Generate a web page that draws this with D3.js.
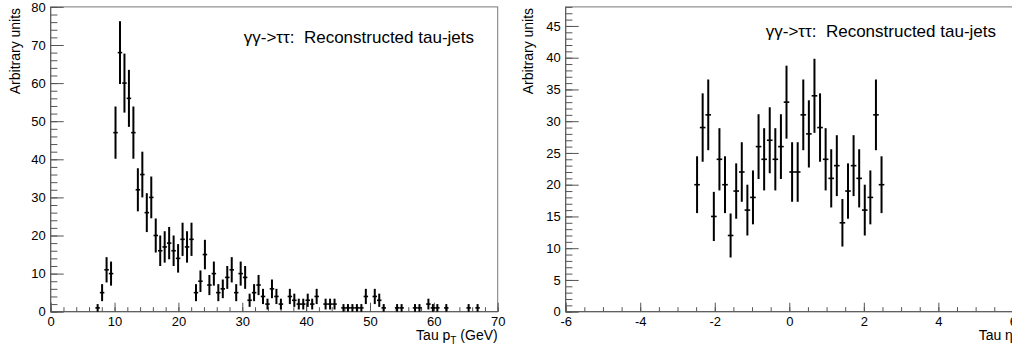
<!DOCTYPE html>
<html>
<head>
<meta charset="utf-8">
<script src="https://cdnjs.cloudflare.com/ajax/libs/d3/7.8.5/d3.min.js"></script>
<style>
  body { margin: 0; background: #fff; overflow: hidden; }
  svg { display: block; font-family: "Liberation Sans", Arial, Helvetica, sans-serif; }
  .label { white-space: pre; }
</style>
</head>
<body>
<svg id="chart" width="1012" height="349"></svg>
<script>
// tau pT histogram: 0.7 GeV bins, empty bins are not drawn
const ptBinWidth = 0.7;
const ptCenters = [7.35, 8.05, 8.75, 9.45, 10.15, 10.85, 11.55, 12.25, 12.95, 13.65,
  14.35, 15.05, 15.75, 16.45, 17.15, 17.85, 18.55, 19.25, 19.95, 20.65,
  21.35, 22.05, 22.75, 23.45, 24.15, 24.85, 25.55, 26.25, 26.95, 27.65,
  28.35, 29.05, 29.75, 30.45, 31.15, 31.85, 32.55, 33.25, 33.95, 34.65,
  35.35, 36.05, 37.45, 38.15, 38.85, 39.55, 40.25, 40.95, 41.65, 43.05,
  43.75, 44.45, 45.85, 46.55, 47.25, 47.95, 48.65, 49.35, 50.75, 51.45,
  52.15, 54.25, 54.95, 57.05, 57.75, 59.15, 59.85, 60.55, 61.95, 65.45, 66.85];
const ptCounts = [1, 5, 11, 10, 47, 68, 60, 56, 47, 32,
  36, 26, 30, 20, 16, 17, 18, 16, 14, 19,
  17, 19, 5, 8, 15, 7, 10, 5, 6, 9,
  11, 5, 10, 9, 3, 5, 7, 4, 2, 6,
  4, 2, 4, 3, 2, 2, 3, 2, 4, 2,
  2, 2, 1, 1, 1, 1, 1, 4, 4, 3,
  1, 1, 1, 1, 1, 2, 1, 1, 1, 1, 1];

// tau eta histogram: 0.15 bins
const etaBinWidth = 0.15;
const etaCenters = [-2.475, -2.325, -2.175, -2.025, -1.875, -1.725, -1.575, -1.425, -1.275, -1.125,
  -0.975, -0.825, -0.675, -0.525, -0.375, -0.225, -0.075, 0.075, 0.225, 0.375,
  0.525, 0.675, 0.825, 0.975, 1.125, 1.275, 1.425, 1.575, 1.725, 1.875,
  2.025, 2.175, 2.325, 2.475];
const etaCounts = [20, 29, 31, 15, 24, 20, 12, 19, 22, 16,
  18, 26, 24, 27, 24, 26, 33, 22, 22, 31,
  28, 34, 29, 24, 21, 23, 14, 19, 23, 21,
  16, 18, 31, 20];

const ptTicks = [0, 10, 20, 30, 40, 50, 60, 70];
const ptCountTicks = [0, 10, 20, 30, 40, 50, 60, 70, 80];
const etaTicks = [-6, -4, -2, 0, 2, 4, 6];
const etaCountTicks = [0, 5, 10, 15, 20, 25, 30, 35, 40, 45];

const yTitle = "Arbitrary units";
const label = "γγ->ττ:  Reconstructed tau-jets";

const svg = d3.select("#chart");
const axisColor = "#555";
const fmt = d => String(d);   // plain hyphen for negatives, like the original

function drawPanel(p) {
  const x = d3.scaleLinear().domain(p.xDomain).range([p.left, p.right]);
  const y = d3.scaleLinear().domain(p.yDomain).range([p.bottom, p.top]);
  const g = svg.append("g");

  // frame
  g.append("rect")
    .attr("x", p.left).attr("y", p.top)
    .attr("width", p.right - p.left).attr("height", p.bottom - p.top)
    .attr("fill", "none").attr("stroke", "#777").attr("stroke-width", 1);

  const clean = sel => {
    sel.select(".domain").remove();
    sel.selectAll(".tick line").attr("stroke", axisColor);
    sel.selectAll("text").attr("fill", "#000").attr("font-size", 13);
  };

  // x axis, ticks point into the frame
  g.append("g").attr("transform", "translate(0," + p.bottom + ")")
    .call(d3.axisBottom(x).tickValues(p.xMinor).tickSize(-4.5).tickFormat(""))
    .call(clean);
  g.append("g").attr("transform", "translate(0," + p.bottom + ")")
    .call(d3.axisBottom(x).tickValues(p.xTicks).tickSize(-9).tickPadding(5).tickFormat(fmt))
    .call(clean);

  // y axis
  g.append("g").attr("transform", "translate(" + p.left + ",0)")
    .call(d3.axisLeft(y).tickValues(p.yMinor).tickSize(-6.7).tickFormat(""))
    .call(clean);
  g.append("g").attr("transform", "translate(" + p.left + ",0)")
    .call(d3.axisLeft(y).tickValues(p.yTicks).tickSize(-13).tickPadding(5).tickFormat(fmt))
    .call(clean);

  g.append("line")
    .attr("x1", p.left).attr("x2", p.right).attr("y1", p.bottom).attr("y2", p.bottom)
    .attr("stroke", axisColor);
  g.append("line")
    .attr("x1", p.left).attr("x2", p.left).attr("y1", p.top).attr("y2", p.bottom)
    .attr("stroke", axisColor);

  // histogram points with sqrt(N) errors
  const pts = p.centers.map((c, i) => ({ c: c, n: p.counts[i] }));
  const marks = g.append("g");
  marks.selectAll(".ebar").data(pts).enter().append("line")
    .attr("x1", d => x(d.c)).attr("x2", d => x(d.c))
    .attr("y1", d => y(d.n - Math.sqrt(d.n))).attr("y2", d => y(d.n + Math.sqrt(d.n)))
    .attr("stroke", "#000").attr("stroke-width", 2);
  marks.selectAll(".hbar").data(pts).enter().append("line")
    .attr("x1", d => x(d.c - p.binWidth / 2)).attr("x2", d => x(d.c + p.binWidth / 2))
    .attr("y1", d => y(d.n)).attr("y2", d => y(d.n))
    .attr("stroke", "#000").attr("stroke-width", 1.6);

  // titles
  g.append("text")
    .attr("transform", "translate(" + p.yTitleX + "," + (p.top + 1) + ") rotate(-90)")
    .attr("text-anchor", "end").attr("font-size", 14).text(yTitle);

  const xt = g.append("text")
    .attr("x", p.right).attr("y", 340)
    .attr("text-anchor", "end").attr("font-size", 14);
  p.xTitle(xt);

  g.append("text").attr("class", "label")
    .attr("x", p.labelX).attr("y", p.labelY)
    .attr("text-anchor", "end").attr("font-size", 17).text(label);
}

drawPanel({
  left: 50.7, right: 497.7, top: 6.9, bottom: 311.7,
  xDomain: [0, 70], yDomain: [0, 80],
  xTicks: ptTicks, xMinor: d3.range(0, 71, 2),
  yTicks: ptCountTicks, yMinor: d3.range(0, 81, 2),
  centers: ptCenters, counts: ptCounts, binWidth: ptBinWidth,
  yTitleX: 20,
  labelX: 474, labelY: 43,
  xTitle: t => {
    t.append("tspan").text("Tau p");
    t.append("tspan").attr("font-size", 10).attr("dy", 4).text("T");
    t.append("tspan").attr("dy", -4).text(" (GeV)");
  }
});

drawPanel({
  left: 565.7, right: 1012.9, top: 6.9, bottom: 311.7,
  xDomain: [-6, 6], yDomain: [0, 48],
  xTicks: etaTicks, xMinor: d3.range(-6, 6.01, 0.5),
  yTicks: etaCountTicks, yMinor: d3.range(0, 48.01, 1),
  centers: etaCenters, counts: etaCounts, binWidth: etaBinWidth,
  yTitleX: 533,
  labelX: 996, labelY: 37,
  xTitle: t => t.text("Tau η")
});
</script>
</body>
</html>
